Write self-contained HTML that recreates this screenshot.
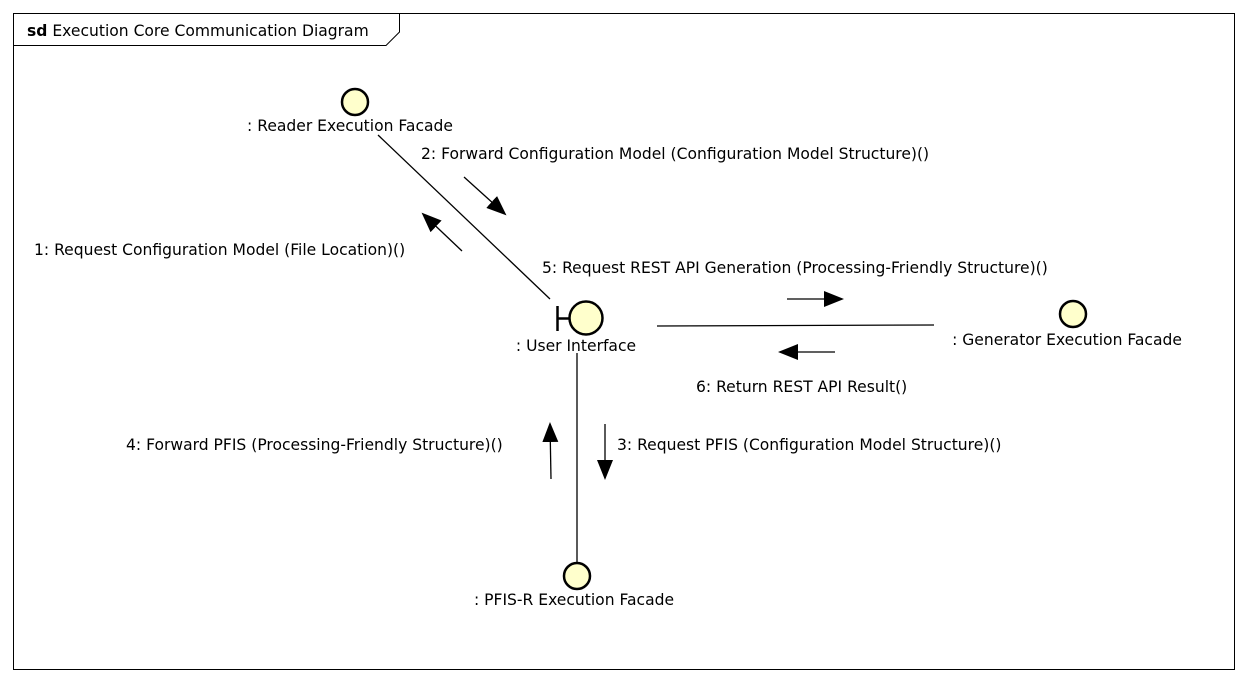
<!DOCTYPE html>
<html><head><style>body{margin:0;background:#fff}svg{display:block}text{font-family:"DejaVu Sans",sans-serif;font-size:15.55px;fill:#000}</style></head><body>
<svg width="1248" height="682" viewBox="0 0 1248 682">
<defs><marker id="a" markerWidth="20" markerHeight="16" refX="18" refY="8" orient="auto" markerUnits="userSpaceOnUse"><path d="M0,0 L20,8 L0,16 z" fill="#000"/></marker></defs>
<rect x="13.5" y="13.5" width="1221" height="656" fill="#fff" stroke="#000"/>
<path d="M13.5,45.5 H386 L399.5,32 V13.5" fill="none" stroke="#000"/>
<text x="27" y="36"><tspan font-weight="bold">sd</tspan> Execution Core Communication Diagram</text>
<g stroke="#000" stroke-width="1.3">
<line x1="378" y1="135" x2="550" y2="299"/>
<line x1="657" y1="326" x2="934" y2="325"/>
<line x1="577" y1="353" x2="577" y2="562"/>
<line x1="464" y1="177" x2="505" y2="214" marker-end="url(#a)"/>
<line x1="462" y1="251" x2="423" y2="214" marker-end="url(#a)"/>
<line x1="787" y1="299" x2="842" y2="299" marker-end="url(#a)"/>
<line x1="835" y1="352" x2="780" y2="352" marker-end="url(#a)"/>
<line x1="605" y1="424" x2="605" y2="478" marker-end="url(#a)"/>
<line x1="551" y1="479" x2="550" y2="424" marker-end="url(#a)"/>
</g>
<g fill="#ffffcc" stroke="#000" stroke-width="2.5">
<circle cx="355" cy="102" r="13"/>
<circle cx="586" cy="318" r="16.5"/>
<circle cx="1073" cy="314" r="13"/>
<circle cx="577" cy="576" r="13"/>
<path d="M557.5,306 V331 M557.5,318.5 H569" fill="none"/>
</g>
<text x="350" y="131" text-anchor="middle">: Reader Execution Facade</text>
<text x="576" y="351" text-anchor="middle">: User Interface</text>
<text x="1067" y="345" text-anchor="middle">: Generator Execution Facade</text>
<text x="574" y="605" text-anchor="middle">: PFIS-R Execution Facade</text>
<text x="421" y="159">2: Forward Configuration Model (Configuration Model Structure)()</text>
<text x="34" y="255">1: Request Configuration Model (File Location)()</text>
<text x="542" y="273">5: Request REST API Generation (Processing-Friendly Structure)()</text>
<text x="696" y="392">6: Return REST API Result()</text>
<text x="126" y="450">4: Forward PFIS (Processing-Friendly Structure)()</text>
<text x="617" y="450">3: Request PFIS (Configuration Model Structure)()</text>
</svg>
</body></html>
